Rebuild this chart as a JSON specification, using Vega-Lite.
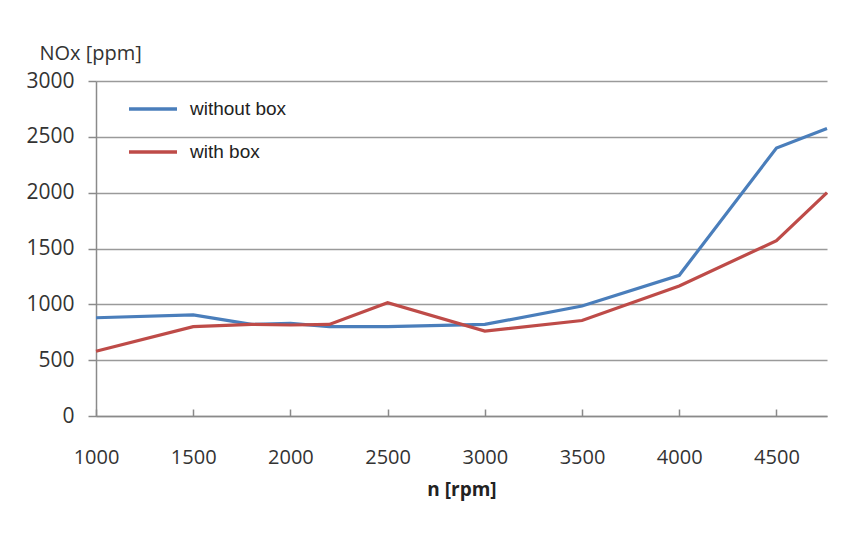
{
  "$schema": "https://vega.github.io/schema/vega-lite/v6.json",
  "width": 731,
  "height": 335,
  "autosize": {"type": "none"},
  "padding": {"left": 96, "top": 81, "right": 32, "bottom": 117},
  "background": "white",
  "config": {
    "view": {"stroke": null},
    "font": "Open Sans"
  },
  "data": {
    "values": [
      {"rpm": 1000, "nox": 880, "series": "without box"},
      {"rpm": 1500, "nox": 905, "series": "without box"},
      {"rpm": 1800, "nox": 820, "series": "without box"},
      {"rpm": 2000, "nox": 830, "series": "without box"},
      {"rpm": 2200, "nox": 800, "series": "without box"},
      {"rpm": 2500, "nox": 800, "series": "without box"},
      {"rpm": 3000, "nox": 820, "series": "without box"},
      {"rpm": 3500, "nox": 985, "series": "without box"},
      {"rpm": 4000, "nox": 1260, "series": "without box"},
      {"rpm": 4500, "nox": 2400, "series": "without box"},
      {"rpm": 4760, "nox": 2575, "series": "without box"},
      {"rpm": 1000, "nox": 580, "series": "with box"},
      {"rpm": 1500, "nox": 800, "series": "with box"},
      {"rpm": 1800, "nox": 820, "series": "with box"},
      {"rpm": 2000, "nox": 815, "series": "with box"},
      {"rpm": 2200, "nox": 820, "series": "with box"},
      {"rpm": 2500, "nox": 1015, "series": "with box"},
      {"rpm": 3000, "nox": 760, "series": "with box"},
      {"rpm": 3500, "nox": 855, "series": "with box"},
      {"rpm": 4000, "nox": 1165, "series": "with box"},
      {"rpm": 4500, "nox": 1570, "series": "with box"},
      {"rpm": 4760, "nox": 2000, "series": "with box"}
    ]
  },
  "mark": {"type": "line", "strokeWidth": 3.2},
  "encoding": {
    "x": {
      "field": "rpm",
      "type": "quantitative",
      "scale": {"domain": [1000, 4760], "nice": false, "zero": false},
      "axis": {
        "values": [1000, 1500, 2000, 2500, 3000, 3500, 4000, 4500],
        "format": "d",
        "title": "n [rpm]",
        "titleFont": "Open Sans",
        "titleFontSize": 19,
        "titleFontWeight": "bold",
        "titleColor": "#222222",
        "titlePadding": 13,
        "grid": false,
        "domainColor": "#8a8a8a",
        "domainWidth": 1.5,
        "tickColor": "#8a8a8a",
        "tickWidth": 1.5,
        "tickSize": -7,
        "labelPadding": 38,
        "labelFontSize": 20,
        "labelColor": "#333333",
        "labelFlush": false
      }
    },
    "y": {
      "field": "nox",
      "type": "quantitative",
      "scale": {"domain": [0, 3000], "nice": false},
      "axis": {
        "values": [0, 500, 1000, 1500, 2000, 2500, 3000],
        "format": "d",
        "title": "NOx [ppm]",
        "titleAngle": 0,
        "titleAlign": "left",
        "titleBaseline": "alphabetic",
        "titleX": -57,
        "titleY": -22,
        "titleFont": "Open Sans",
        "titleFontSize": 20,
        "titleFontWeight": "normal",
        "titleColor": "#333333",
        "grid": true,
        "gridColor": "#9a9a9a",
        "gridWidth": 1.5,
        "domainColor": "#8a8a8a",
        "domainWidth": 1.5,
        "tickColor": "#8a8a8a",
        "tickWidth": 1.5,
        "tickSize": 8,
        "labelPadding": 14,
        "labelFontSize": 21,
        "labelColor": "#333333"
      }
    },
    "color": {
      "field": "series",
      "type": "nominal",
      "scale": {"domain": ["without box", "with box"], "range": ["#4A7EBB", "#BE4B48"]},
      "legend": {
        "title": null,
        "orient": "none",
        "legendX": 31,
        "legendY": 2,
        "symbolType": "stroke",
        "symbolSize": 2304,
        "symbolStrokeWidth": 3.5,
        "rowPadding": 7,
        "labelOffset": 11,
        "labelFont": "Liberation Sans",
        "labelFontSize": 19,
        "labelColor": "#222222"
      }
    }
  }
}
